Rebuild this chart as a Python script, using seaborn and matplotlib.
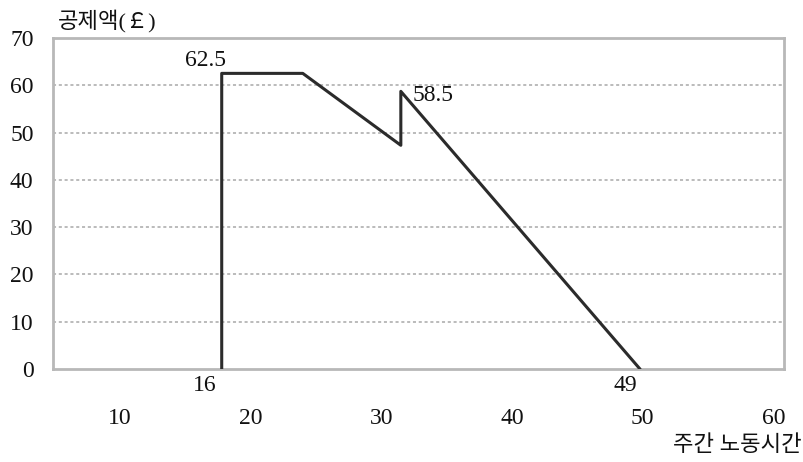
import matplotlib
matplotlib.use("Agg")
import matplotlib.pyplot as plt
import seaborn as sns
import pandas as pd

# data (x in axis units of the 10..60 scale)
hours = [17.8, 17.8, 24.0, 31.5, 31.5, 49.8]
deduction = [0.0, 62.5, 62.5, 47.3, 58.7, 0.0]
x_ticks = [10, 20, 30, 40, 50, 60]
y_ticks = [0, 10, 20, 30, 40, 50, 60, 70]
point_labels = ["62.5", "58.5", "16", "49"]

sns.set_theme(style="white")
plt.rcParams['font.family'] = ['Liberation Serif', 'Noto Sans CJK KR']

df = pd.DataFrame({"hours": hours, "deduction": deduction})

fig = plt.figure(figsize=(8.04, 4.62), dpi=100)
ax = fig.add_axes([0.066, 0.201, 0.909, 0.717])

for yv in y_ticks[1:-1]:
    ax.axhline(yv, color="#a8a8a8", lw=1.1, ls=(0, (2, 1.8)), zorder=1)

sns.lineplot(data=df, x="hours", y="deduction", sort=False, estimator=None,
             color="#2b2b2b", lw=2.2, ax=ax, zorder=3)

ax.set_xlim(4.9, 60.8)
ax.set_ylim(0, 70)
ax.set_xticks(x_ticks)
ax.set_yticks(y_ticks)
ax.tick_params(axis="x", length=0, pad=28, labelsize=17, colors="#111111")
ax.tick_params(axis="y", length=0, pad=14, labelsize=17, colors="#111111")
ax.set_xlabel("")
ax.set_ylabel("")
for s in ax.spines.values():
    s.set_color("#b8b8b8")
    s.set_linewidth(2)

ax.text(18.1, 63.0, point_labels[0], fontsize=17, ha="right", va="bottom", color="#111111")
ax.text(32.4, 57.8, point_labels[1], fontsize=17, ha="left", va="center", color="#111111")
ax.text(16.5, -1.2, point_labels[2], fontsize=17, ha="center", va="top", color="#111111")
ax.text(48.7, -1.2, point_labels[3], fontsize=17, ha="center", va="top", color="#111111")

fig.text(0.072, 0.955, "공제액(￡)", fontsize=16, ha="left", va="center", color="#111111")
fig.text(0.997, 0.035, "주간 노동시간", fontsize=16, ha="right", va="center", color="#111111")

fig.savefig("out.png", dpi=100)
